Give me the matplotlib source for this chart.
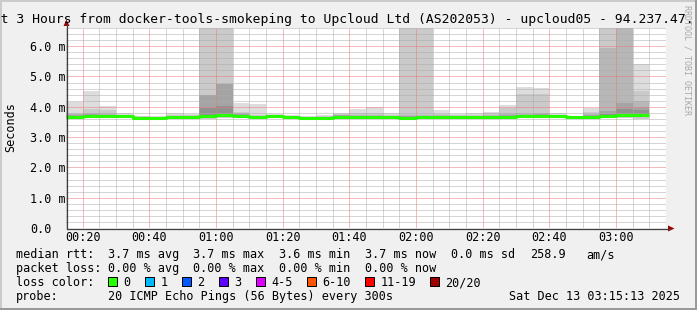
import matplotlib
matplotlib.use("Agg")
import matplotlib.pyplot as plt
from matplotlib.patches import Rectangle, Polygon
from matplotlib.lines import Line2D
from matplotlib.ticker import MultipleLocator
from matplotlib.transforms import blended_transform_factory

W, H = 697, 310
MONO = "DejaVu Sans Mono"

# 5 minute steps, start of each step
steps = ["00:15", "00:20", "00:25", "00:30", "00:35", "00:40", "00:45", "00:50",
         "00:55", "01:00", "01:05", "01:10", "01:15", "01:20", "01:25", "01:30",
         "01:35", "01:40", "01:45", "01:50", "01:55", "02:00", "02:05", "02:10",
         "02:15", "02:20", "02:25", "02:30", "02:35", "02:40", "02:45", "02:50",
         "02:55", "03:00", "03:05"]

# rtt values in ms
rtt_max = [4.17, 4.52, 4.03, 3.79, 3.71, 3.70, 3.79, 3.77, 8.40, 8.10, 4.11, 4.08,
           3.76, 3.74, 3.70, 3.73, 3.79, 3.93, 4.00, 3.78, 8.20, 7.90, 3.89, 3.76,
           3.80, 3.84, 4.06, 4.64, 4.61, 3.78, 3.70, 3.97, 8.60, 8.30, 5.40]
rtt_p19 = [3.80, 3.93, 3.90, 3.74, 3.68, 3.67, 3.72, 3.72, 7.60, 7.40, 3.84, 3.73,
           3.72, 3.70, 3.67, 3.69, 3.75, 3.78, 3.80, 3.73, 7.50, 7.30, 3.76, 3.72,
           3.74, 3.78, 3.95, 4.41, 4.41, 3.74, 3.68, 3.84, 7.80, 7.70, 4.53]
rtt_p18 = [3.75, 3.80, 3.78, 3.72, 3.66, 3.66, 3.70, 3.70, 4.40, 4.76, 3.80, 3.71,
           3.71, 3.69, 3.66, 3.67, 3.73, 3.73, 3.74, 3.71, 3.72, 3.74, 3.72, 3.70,
           3.71, 3.73, 3.80, 3.78, 3.80, 3.72, 3.67, 3.76, 5.95, 7.50, 4.19]
rtt_p17 = [3.72, 3.76, 3.74, 3.71, 3.65, 3.65, 3.69, 3.69, 4.39, 4.74, 3.76, 3.70,
           3.70, 3.68, 3.65, 3.66, 3.72, 3.71, 3.71, 3.70, 3.69, 3.71, 3.70, 3.69,
           3.70, 3.71, 3.74, 3.74, 3.75, 3.71, 3.66, 3.73, 3.85, 4.11, 4.00]
rtt_p16 = [3.70, 3.73, 3.72, 3.70, 3.64, 3.64, 3.68, 3.68, 3.95, 4.03, 3.74, 3.69,
           3.69, 3.67, 3.65, 3.65, 3.71, 3.70, 3.70, 3.69, 3.67, 3.69, 3.68, 3.68,
           3.69, 3.70, 3.71, 3.72, 3.72, 3.70, 3.66, 3.70, 3.76, 3.92, 3.89]
rtt_median = [3.67, 3.70, 3.69, 3.68, 3.62, 3.62, 3.66, 3.66, 3.68, 3.72, 3.68, 3.67,
              3.68, 3.66, 3.64, 3.64, 3.67, 3.67, 3.67, 3.67, 3.63, 3.66, 3.65, 3.66,
              3.67, 3.67, 3.67, 3.68, 3.68, 3.69, 3.65, 3.66, 3.68, 3.72, 3.72]
rtt_min = [3.60, 3.62, 3.62, 3.62, 3.57, 3.57, 3.60, 3.60, 3.60, 3.62, 3.62, 3.61,
           3.62, 3.60, 3.59, 3.59, 3.61, 3.61, 3.61, 3.61, 3.58, 3.60, 3.60, 3.61,
           3.61, 3.61, 3.61, 3.62, 3.62, 3.63, 3.60, 3.61, 3.62, 3.62, 3.60]

rtt_stats = ["3.7 ms avg", "3.7 ms max", "3.6 ms min", "3.7 ms now", "0.0 ms sd", "258.9", "am/s"]
loss_stats = ["0.00 % avg", "0.00 % max", "0.00 % min", "0.00 % now"]
loss_labels = ["0", "1", "2", "3", "4-5", "6-10", "11-19", "20/20"]
loss_colors = ["#26ff00", "#00b8ff", "#0059ff", "#5e00ff", "#dd00ff", "#ff5500", "#ff0000", "#a10000"]


def tmin(s):
    h, m = s.split(":")
    return int(h) * 60 + int(m)


def fx(x):
    return x / W


def fy(y):
    return 1 - y / H


t = [tmin(s) for s in steps]

fig = plt.figure(figsize=(W / 100, H / 100), dpi=100, facecolor="#f0f0f0")
ax = fig.add_axes([fx(66), fy(228), 600 / W, 200 / H])
ax.set_facecolor("white")
ax.set_xlim(15, 195)
ax.set_ylim(0, 6.6)
for s in ax.spines.values():
    s.set_visible(False)

# smoke bands, outer light to inner dark
bands = [(rtt_min, rtt_max, "#dddddd"), (rtt_min, rtt_p19, "#cacaca"),
         (rtt_median, rtt_p18, "#b7b7b7"), (rtt_median, rtt_p17, "#a4a4a4"),
         (rtt_median, rtt_p16, "#919191")]
for lo, hi, c in bands:
    ax.bar(t, [h - l for l, h in zip(lo, hi)], bottom=lo, width=5, align="edge",
           color=c, linewidth=0, zorder=1)

# dotted grid drawn over the smoke
ax.xaxis.set_major_locator(MultipleLocator(20))
ax.xaxis.set_minor_locator(MultipleLocator(5))
ax.yaxis.set_major_locator(MultipleLocator(1.0))
ax.yaxis.set_minor_locator(MultipleLocator(0.2))
ax.grid(which="minor", color="#acacac", linestyle=(0, (1, 1)), linewidth=0.72, zorder=2)
ax.grid(which="major", color="#e87878", linestyle=(0, (1, 1)), linewidth=0.72, zorder=2)
ax.set_axisbelow(False)
ax.tick_params(which="both", length=0, labelbottom=False, labelleft=False)

ax.plot(t + [t[-1] + 5], rtt_median + [rtt_median[-1]], drawstyle="steps-post",
        color="#26ff00", linewidth=2.2, zorder=3, solid_capstyle="butt")

# tick labels
bx = blended_transform_factory(ax.transData, fig.transFigure)
for m in range(20, 195, 20):
    ax.text(m, fy(241), "%02d:%02d" % (m // 60, m % 60), transform=bx, ha="center",
            va="baseline", family=MONO, fontsize=8.5, clip_on=False)
by = blended_transform_factory(fig.transFigure, ax.transData)
for v in range(0, 7):
    lab = "0.0" if v == 0 else "%.1f m" % v
    ax.text(fx(30), v, lab, transform=by, ha="left", va="center_baseline",
            family=MONO, fontsize=8.5, clip_on=False)

# axis lines and arrows
fig.add_artist(Line2D([fx(66.5), fx(66.5)], [fy(228.5), fy(24)], color="#404040", lw=0.9))
fig.add_artist(Line2D([fx(66.5), fx(670)], [fy(228.5), fy(228.5)], color="#404040", lw=0.9))
fig.add_artist(Polygon([(fx(66.5), fy(19.5)), (fx(63.5), fy(26)), (fx(69.5), fy(26))],
                       closed=True, color="#a00000", lw=0))
fig.add_artist(Polygon([(fx(674.5), fy(228.5)), (fx(668), fy(225.5)), (fx(668), fy(231.5))],
                       closed=True, color="#a00000", lw=0))

# 3d border
fig.add_artist(Line2D([0, 1], [fy(1), fy(1)], color="#cbcbcb", lw=1.44))
fig.add_artist(Line2D([fx(1), fx(1)], [0, 1], color="#cbcbcb", lw=1.44))
fig.add_artist(Line2D([0, 1], [fy(309), fy(309)], color="#999999", lw=1.44))
fig.add_artist(Line2D([fx(696), fx(696)], [0, 1], color="#999999", lw=1.44))

# title, axis label, watermark
fig.text(fx(-23), fy(23.5),
         "Last 3 Hours from docker-tools-smokeping to Upcloud Ltd (AS202053) - upcloud05 - 94.237.47.",
         ha="left", va="baseline", family=MONO, fontsize=9.4)
fig.text(fx(10.5), fy(127), "Seconds", rotation=90, ha="center", va="center",
         family=MONO, fontsize=8.5)
fig.text(fx(687.5), fy(5), "RRDTOOL / TOBI OETIKER", rotation=270, ha="center", va="top",
         family=MONO, fontsize=6, color="#a8a8a8")

# legend rows
cols = [107.6, 193.3, 279, 365.3, 451, 530, 586.7]
fig.text(fx(16), fy(258), "median rtt:", family=MONO, fontsize=8.5, va="baseline")
for x, s in zip(cols, rtt_stats):
    fig.text(fx(x), fy(258), s, family=MONO, fontsize=8.5, va="baseline")
fig.text(fx(16), fy(272), "packet loss:", family=MONO, fontsize=8.5, va="baseline")
for x, s in zip(cols, loss_stats):
    fig.text(fx(x), fy(272), s, family=MONO, fontsize=8.5, va="baseline")

fig.text(fx(16), fy(286), "loss color:", family=MONO, fontsize=8.5, va="baseline")
box_x = [108, 145.3, 182.2, 219, 256.4, 307, 365.3, 429.8]
for x, lab, c in zip(box_x, loss_labels, loss_colors):
    fig.add_artist(Rectangle((fx(x), fy(286)), 9 / W, 9 / H, transform=fig.transFigure,
                             facecolor=c, edgecolor="black", lw=0.72))
    fig.text(fx(x + 15), fy(286), lab, family=MONO, fontsize=8.5, va="baseline")

fig.text(fx(16), fy(300), "probe:", family=MONO, fontsize=8.5, va="baseline")
fig.text(fx(107.6), fy(300), "20 ICMP Echo Pings (56 Bytes) every 300s", family=MONO,
         fontsize=8.5, va="baseline")
fig.text(fx(680), fy(300), "Sat Dec 13 03:15:13 2025", family=MONO, fontsize=8.5,
         va="baseline", ha="right")

fig.savefig("out.png", dpi=100, facecolor=fig.get_facecolor())
